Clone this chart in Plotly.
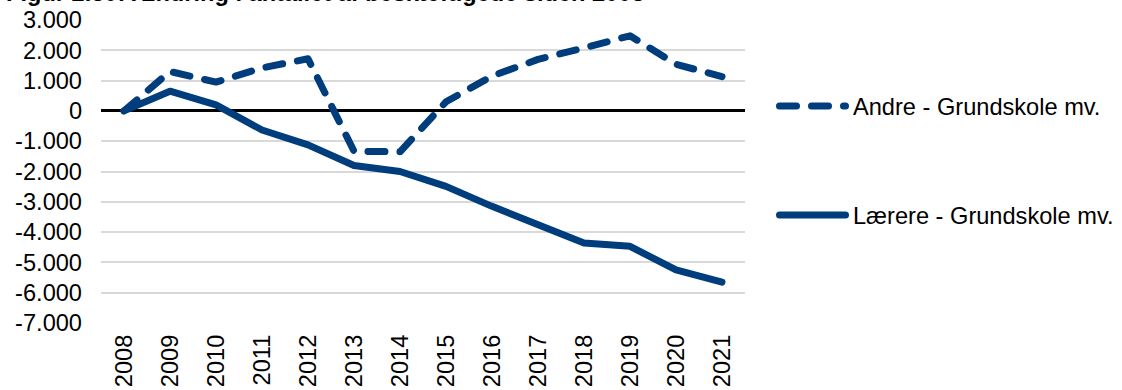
import plotly.graph_objects as go

# Data: change in employment since 2008
years = ["2008", "2009", "2010", "2011", "2012", "2013", "2014",
         "2015", "2016", "2017", "2018", "2019", "2020", "2021"]
andre = [0, 1300, 950, 1420, 1720, -1330, -1350,
         300, 1150, 1700, 2080, 2480, 1540, 1130]
laerere = [0, 650, 200, -630, -1120, -1800, -2000,
           -2490, -3150, -3750, -4360, -4470, -5250, -5650]
y_tickvals = [3000, 2000, 1000, 0, -1000, -2000, -3000, -4000, -5000, -6000, -7000]
y_ticktext = ["3.000", "2.000", "1.000", "0", "-1.000", "-2.000", "-3.000",
              "-4.000", "-5.000", "-6.000", "-7.000"]
series_names = ["Andre - Grundskole mv.", "Lærere - Grundskole mv."]
title_text = "Figur 2.30: Ændring i antallet af beskæftigede siden 2008"

BLUE = "#003D7D"
FONT = "Liberation Sans, Arial, sans-serif"
W, H = 1122, 390
L, R, T, B = 101, 377, 20, 67
LW = 7
DASH = "17px,15px"

fig = go.Figure()
fig.add_trace(go.Scatter(x=years, y=andre, mode="lines", name=series_names[0],
                         line=dict(color=BLUE, width=LW, dash=DASH)))
fig.add_trace(go.Scatter(x=years, y=laerere, mode="lines", name=series_names[1],
                         line=dict(color=BLUE, width=LW)))

pw, ph = W - L - R, H - T - B


def px_x(p):
    return (p - L) / pw


def px_y(p):
    return 1 - (p - T) / ph


# Legend drawn beside the plot
legend_rows = [(series_names[0], 106, DASH), (series_names[1], 215, "solid")]
for name, ypix, dash in legend_rows:
    fig.add_shape(type="line", xref="paper", yref="paper",
                  x0=px_x(779.5), x1=px_x(845.5), y0=px_y(ypix), y1=px_y(ypix),
                  line=dict(color=BLUE, width=LW, dash=dash))
    fig.add_annotation(xref="paper", yref="paper", x=px_x(851), y=px_y(ypix + 1),
                       text=name, showarrow=False, xanchor="left", yanchor="middle",
                       font=dict(family=FONT, size=23.6, color="#000000"))

fig.add_annotation(xref="paper", yref="paper", x=px_x(4), y=px_y(-7),
                   text="<b>" + title_text + "</b>", showarrow=False,
                   xanchor="left", yanchor="middle",
                   font=dict(family=FONT, size=23.6, color="#000000"))

fig.update_layout(
    width=W, height=H,
    margin=dict(l=L, r=R, t=T, b=B, pad=0, autoexpand=False),
    paper_bgcolor="white", plot_bgcolor="white",
    showlegend=False,
    font=dict(family=FONT, size=23.6, color="#000000"),
)
fig.update_xaxes(type="category", range=[-0.5, 13.5], tickangle=-90,
                 showgrid=False, showline=False, zeroline=False,
                 ticks="", ticklabelstandoff=6, automargin=False,
                 tickfont=dict(family=FONT, size=23.6, color="#000000"))
fig.update_yaxes(range=[-7000, 3000], tickvals=y_tickvals, ticktext=y_ticktext,
                 showgrid=True, gridcolor="#D9D9D9", gridwidth=2,
                 zeroline=True, zerolinecolor="#000000", zerolinewidth=3,
                 showline=False, ticks="", ticklabelstandoff=18, automargin=False,
                 tickfont=dict(family=FONT, size=23.6, color="#000000"))

round_caps = (
    "document.querySelectorAll('path.js-line, .shapelayer path')"
    ".forEach(function(p){p.style.strokeLinecap='round';p.style.strokeLinejoin='round';});"
)
fig.write_html("out.html", post_script=round_caps)
